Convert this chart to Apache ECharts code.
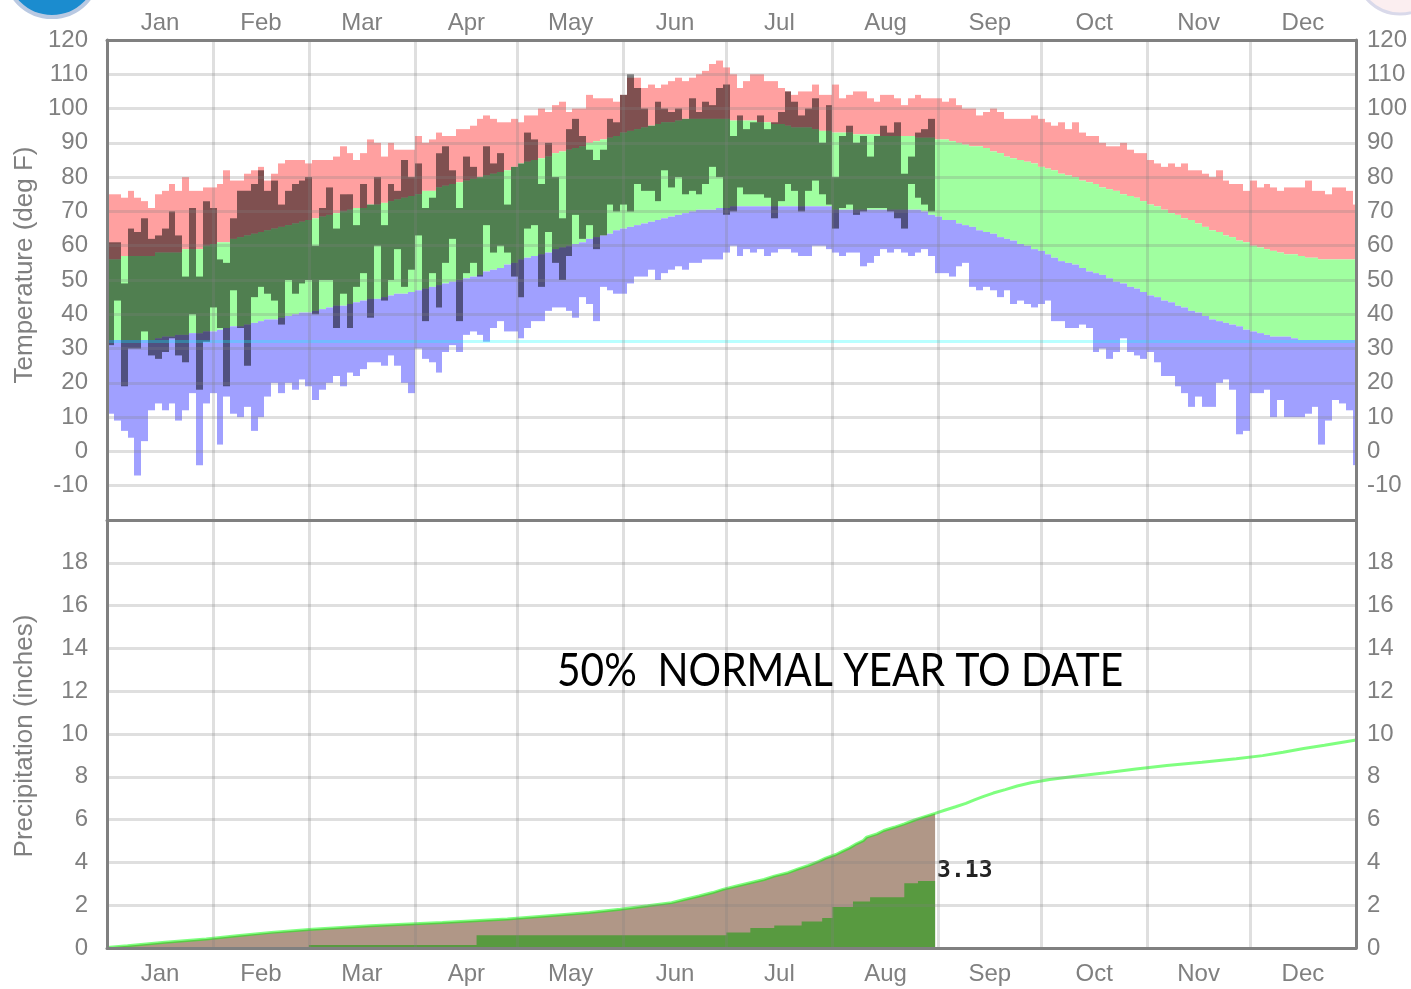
<!DOCTYPE html>
<html>
<head>
<meta charset="utf-8">
<title>Temperature and precipitation</title>
<script src="https://cdn.jsdelivr.net/npm/echarts@6/dist/echarts.min.js"></script>
<style>
  html, body { margin: 0; padding: 0; background: #fff; }
  #chart { width: 1411px; height: 989px; }
</style>
</head>
<body>
<div id="chart"></div>
<script>
// month axis
const months = ['Jan', 'Feb', 'Mar', 'Apr', 'May', 'Jun', 'Jul', 'Aug', 'Sep', 'Oct', 'Nov', 'Dec'];
const monthStarts = [0, 31, 59, 90, 120, 151, 181, 212, 243, 273, 304, 334, 365];

// temperatures (deg F), one value per 2-day bin
const BIN_DAYS = 2;
const recHigh = [
  75, 75, 74, 76, 74, 73, 71, 75, 76, 78, 76, 80, 76, 76, 77, 77, 78, 82, 79, 79, 81, 82, 83, 79, 81, 84, 85, 85, 85, 84,
  85, 85, 85, 86, 89, 87, 85, 87, 91, 90, 86, 90, 88, 88, 88, 92, 90, 91, 93, 92, 92, 94, 94, 95, 97, 98, 97, 96, 96, 97, 96,
  98, 98, 100, 99, 101, 102, 99, 100, 100, 104, 103, 103, 103, 102, 104, 109, 109, 106, 107, 106, 107, 108, 109, 108, 109, 110, 111, 113, 114, 112, 110,
  106, 108, 110, 110, 108, 108, 106, 105, 104, 105, 105, 107, 104, 104, 107, 103, 104, 105, 105, 103, 102, 104, 104, 103, 101, 103, 104, 103, 103, 103,
  102, 103, 101, 100, 100, 98, 99, 100, 99, 97, 97, 97, 97, 98, 97, 96, 95, 96, 94, 96, 93, 92, 92, 90, 89, 89, 90, 88, 87, 87, 85,
  84, 83, 84, 83, 84, 82, 82, 81, 80, 82, 79, 78, 78, 76, 79, 77, 78, 77, 76, 77, 77, 77, 79, 76, 76, 75, 77, 77, 76, 72
];
const normHigh = [
  56, 56, 57, 57, 57, 57, 57, 58, 58, 58, 58, 59, 59, 59, 60, 60.5, 61, 61, 62, 62.5, 63, 63.5, 64, 64.5, 65, 65.5, 66, 66.5, 67, 67.5,
  68, 68.5, 69, 69.5, 70, 70.5, 71, 71, 72, 72, 72.5, 73, 73.5, 74, 74.5, 75, 76, 76, 77, 77.5, 78, 78.5, 79, 79.5, 80, 80.5, 81, 81.5, 82, 83, 84,
  84.5, 85, 85.5, 86, 87, 87.5, 88, 88.5, 89, 90, 90.5, 91, 91.5, 92, 93, 93.5, 94, 94.5, 95, 95.5, 96, 96, 96.5, 97, 97, 97, 97, 97, 97, 97, 96.5,
  96.5, 96.5, 96.5, 96, 96, 95.5, 95.5, 95, 94.5, 94.5, 94.5, 94, 93.5, 93.5, 93, 93, 93, 92.5, 92.5, 92.5, 92.5, 92, 92, 92, 92, 92, 91.5, 91.5, 91.5, 91,
  91, 90.5, 90, 89.5, 89, 89, 88.5, 87.5, 87, 86, 85.5, 85, 84.5, 84, 83, 82.5, 82, 81, 80.5, 80, 79, 78.5, 78, 77, 76.5, 76, 75, 74.5, 74, 73, 72,
  71.5, 70.5, 69.5, 69, 68, 67.5, 66.5, 65.5, 64.5, 64, 63, 62.5, 61.5, 61, 60, 59.5, 59, 58.5, 58, 57.5, 57.5, 57, 56.5, 56.5, 56, 56, 56, 56, 56, 56
];
const normLow = [
  32.5, 32.5, 32.5, 32.5, 32.5, 32.5, 32.5, 33, 33.5, 33.5, 34, 34, 34.5, 34.5, 35, 35, 35.5, 36, 36.5, 36.5, 37, 37.5, 38, 38.5, 38.5, 39, 39.5, 40, 40.5, 40.5,
  41, 41.5, 42, 42.5, 42.5, 43, 43.5, 44, 44.5, 44.5, 45, 45.5, 46, 46, 46.5, 47, 47.5, 48, 48.5, 49, 49.5, 50, 50.5, 51, 51.5, 52.5, 53, 53.5, 54.5, 55, 56,
  56.5, 57, 57.5, 58, 59, 59.5, 60, 60.5, 61, 62, 62.5, 63, 63.5, 64.5, 65, 65.5, 66, 66.5, 67, 67.5, 68, 68.5, 69, 69.5, 70, 70.5, 70.5, 70.5, 71, 71, 71.5,
  71.5, 71.5, 71.5, 71.5, 71.5, 71.5, 71.5, 71.5, 71.5, 71.5, 71.5, 71.5, 71.5, 71.5, 70.5, 70.5, 70.5, 70.5, 70.5, 70.5, 70.5, 70.5, 70.5, 70.5, 70.5, 70.5, 70.5, 70, 69, 68.5,
  67.5, 67.5, 66.5, 66, 65.5, 64.5, 64, 63.5, 62.5, 62, 61.5, 60.5, 60, 59, 58.5, 57.5, 56.5, 55.5, 55, 54.5, 53.5, 52.5, 52, 51.5, 50.5, 49.5, 49, 48, 47.5, 46.5, 45.5,
  45, 44, 43.5, 42.5, 42, 41, 40.5, 39.5, 38.5, 38, 37.5, 37, 36.5, 35.5, 35, 34.5, 34, 33.5, 33.5, 33.5, 33, 32.5, 32.5, 32.5, 32.5, 32.5, 32.5, 32.5, 32.5, 32.5
];
const recLow = [
  11, 9, 6, 4, -7, 3, 12, 14, 12, 14, 9, 12, 17, -4, 14, 17, 2, 16, 11, 10, 13, 6, 10, 16, 20, 17, 20, 18, 21, 19,
  15, 18, 20, 22, 19, 23, 22, 24, 26, 26, 25, 28, 25, 20, 17, 30, 27, 26, 23, 29, 31, 29, 34, 35, 34, 32, 36, 38, 35, 35, 33,
  36, 38, 38, 41, 42, 42, 41, 39, 45, 43, 38, 48, 47, 46, 46, 49, 51, 51, 53, 50, 52, 53, 54, 53, 55, 55, 56, 56, 56, 58, 60,
  57, 59, 58, 59, 57, 58, 59, 59, 58, 57, 57, 60, 60, 59, 58, 57, 58, 58, 54, 55, 57, 59, 58, 59, 58, 57, 58, 59, 57, 52,
  52, 51, 54, 55, 48, 47, 48, 47, 45, 47, 43, 44, 43, 42, 43, 44, 38, 38, 36, 36, 37, 36, 29, 30, 27, 29, 33, 29, 28, 27, 29,
  26, 22, 22, 19, 17, 13, 16, 13, 13, 20, 21, 18, 5, 6, 17, 17, 18, 10, 15, 10, 10, 10, 11, 13, 2, 9, 15, 14, 12, -4
];
// this year's observed daily range, through late August
const obsHigh = [
  61, 61, 49, 65, 64, 68, 62, 63, 65, 70, 63, 51, 71, 51, 73, 71, 56, 55, 68, 76, 76, 78, 82, 76, 79, 72, 76, 78, 79, 80,
  60, 71, 77, 65, 75, 75, 66, 78, 72, 80, 66, 78, 76, 85, 80, 84, 71, 74, 87, 89, 82, 71, 86, 83, 80, 89, 84, 87, 72, 83, 84,
  93, 91, 78, 90, 80, 68, 94, 97, 92, 88, 85, 88, 97, 96, 104, 110, 106, 100, 95, 102, 100, 99, 100, 97, 103, 99, 102, 101, 106, 107, 92,
  98, 94, 96, 98, 94, 96, 99, 105, 102, 98, 100, 103, 90, 101, 80, 92, 95, 90, 92, 86, 92, 95, 93, 96, 81, 86, 93, 94, 97
];
const obsLow = [
  31, 44, 19, 30, 30, 35, 28, 27, 29, 33, 28, 26, 40, 18, 32, 42, 36, 19, 47, 36, 25, 45, 48, 46, 44, 37, 50, 46, 49, 50,
  40, 50, 50, 36, 46, 36, 48, 52, 39, 60, 44, 50, 59, 48, 53, 63, 38, 52, 42, 55, 62, 38, 52, 55, 51, 66, 58, 60, 58, 51, 45,
  65, 66, 48, 64, 55, 50, 57, 69, 62, 66, 59, 63, 72, 70, 72, 70, 78, 76, 76, 73, 82, 77, 80, 75, 76, 75, 78, 83, 80, 69, 70,
  77, 75, 75, 75, 74, 68, 73, 78, 76, 70, 76, 79, 75, 72, 65, 71, 72, 69, 70, 71, 71, 71, 70, 68, 65, 78, 74, 72, 70
];
const FREEZE = 32;

// cumulative precipitation (inches) by day of year
const precipNormalDays = [0, 6, 17, 29, 38, 48, 60, 77, 98, 117, 131, 141, 150, 158, 165, 169, 173, 177, 180, 184, 188, 192, 195, 199, 202, 205, 208, 210, 213, 215, 217, 219, 221, 222, 225, 227, 230, 233, 236, 239, 242, 245, 248, 251, 253.5, 256, 259, 262.5, 266, 270, 275.5, 283, 292, 300.7, 309.7, 320, 330, 337.7, 343.7, 349.7, 355.8, 362, 365];
const precipNormalInches = [0.02, 0.1, 0.27, 0.42, 0.57, 0.73, 0.88, 1.04, 1.19, 1.35, 1.53, 1.66, 1.81, 1.97, 2.12, 2.28, 2.43, 2.59, 2.74, 2.9, 3.05, 3.2, 3.36, 3.52, 3.7, 3.86, 4.05, 4.2, 4.37, 4.53, 4.68, 4.87, 5.02, 5.18, 5.33, 5.49, 5.64, 5.8, 5.98, 6.14, 6.29, 6.45, 6.6, 6.76, 6.92, 7.07, 7.24, 7.4, 7.57, 7.72, 7.87, 8.03, 8.19, 8.36, 8.53, 8.68, 8.84, 8.99, 9.15, 9.32, 9.47, 9.64, 9.72];
const precipObsDays = [0, 59, 108, 181, 188, 195, 203, 209, 212, 218, 223, 233, 237, 242];
const precipObsInches = [0, 0.14, 0.6, 0.73, 0.93, 1.05, 1.24, 1.4, 1.92, 2.17, 2.37, 3.02, 3.13, 3.13];
const OBS_END = 242;
const annotation = '50%  NORMAL YEAR TO DATE';

const FONT = 'Liberation Sans';
const GREY = '#808080';
const GRID_LINE = 'rgba(128,128,128,0.25)';

const chart = echarts.init(document.getElementById('chart'));

const binStart = (k) => k * BIN_DAYS;
const binEnd = (k) => Math.min((k + 1) * BIN_DAYS, 365);
const band = (lower, upper) => upper.map((v, k) => [binStart(k), binEnd(k), lower[k], v]);

const monthMids = months.map((m, i) => (monthStarts[i] + monthStarts[i + 1]) / 2);
const monthName = (v) => {
  let best = 0;
  monthMids.forEach((m, i) => { if (Math.abs(m - v) < Math.abs(monthMids[best] - v)) best = i; });
  return months[best];
};

function rectRender(params, api) {
  const a = api.coord([api.value(0), api.value(3)]);
  const b = api.coord([api.value(1), api.value(2)]);
  const x0 = Math.round(a[0]);
  const x1 = Math.round(b[0]);
  return {
    type: 'rect',
    shape: { x: x0, y: a[1], width: x1 - x0, height: b[1] - a[1] },
    style: { fill: api.visual('color') }
  };
}

function bandSeries(name, data, color, z) {
  return {
    name: name,
    type: 'custom',
    xAxisIndex: 0,
    yAxisIndex: 0,
    renderItem: rectRender,
    encode: { x: [0, 1], y: [2, 3] },
    itemStyle: { color: color },
    data: data,
    silent: true,
    z: z
  };
}

const xBase = {
  type: 'value',
  min: 0,
  max: 365,
  z: 10,
  axisTick: { show: false, customValues: monthStarts },
  axisLine: { show: true, onZero: false, lineStyle: { color: GREY, width: 3 } }
};
const monthLabel = (margin) => ({
  show: true,
  customValues: monthMids,
  formatter: monthName,
  color: GREY,
  fontFamily: FONT,
  fontSize: 24,
  margin: margin
});

const yLabel = (hide, margin) => ({
  color: GREY,
  fontFamily: FONT,
  fontSize: 24,
  margin: margin,
  formatter: (v) => (v === hide ? '' : String(v))
});

chart.setOption({
  animation: false,
  backgroundColor: '#fff',
  grid: [
    { left: 107, top: 40, width: 1249, height: 480 },
    { left: 107, top: 520, width: 1249, height: 428 }
  ],
  xAxis: [
    Object.assign({}, xBase, {
      gridIndex: 0, position: 'bottom',
      axisLabel: { show: false },
      splitLine: { show: true, lineStyle: { color: GRID_LINE, width: 3 } }
    }),
    Object.assign({}, xBase, {
      gridIndex: 0, position: 'top',
      axisLabel: monthLabel(5),
      splitLine: { show: false }
    }),
    Object.assign({}, xBase, {
      gridIndex: 1, position: 'bottom',
      axisLabel: monthLabel(14),
      splitLine: { show: true, lineStyle: { color: GRID_LINE, width: 3 } }
    })
  ],
  yAxis: [
    {
      type: 'value', gridIndex: 0, position: 'left', min: -20, max: 120, interval: 10, z: 10,
      axisLine: { show: true, onZero: false, lineStyle: { color: GREY, width: 3 } },
      axisTick: { show: false },
      axisLabel: yLabel(-20, 19),
      splitLine: { show: true, lineStyle: { color: GRID_LINE, width: 3 } }
    },
    {
      type: 'value', gridIndex: 0, position: 'right', min: -20, max: 120, interval: 10, z: 10,
      axisLine: { show: true, onZero: false, lineStyle: { color: GREY, width: 3 } },
      axisTick: { show: false },
      axisLabel: yLabel(-20, 11),
      splitLine: { show: false }
    },
    {
      type: 'value', gridIndex: 1, position: 'left', min: 0, max: 20, interval: 2, z: 10,
      axisLine: { show: true, onZero: false, lineStyle: { color: GREY, width: 3 } },
      axisTick: { show: false },
      axisLabel: yLabel(20, 19),
      splitLine: { show: true, lineStyle: { color: GRID_LINE, width: 3 } }
    },
    {
      type: 'value', gridIndex: 1, position: 'right', min: 0, max: 20, interval: 2, z: 10,
      axisLine: { show: true, onZero: false, lineStyle: { color: GREY, width: 3 } },
      axisTick: { show: false },
      axisLabel: yLabel(20, 11),
      splitLine: { show: false }
    }
  ],
  graphic: [
    {
      type: 'circle', shape: { cx: 52, cy: -30, r: 47 },
      style: { fill: '#1b8ccf', stroke: '#b9c9e2', lineWidth: 4 }, silent: true
    },
    {
      type: 'circle', shape: { cx: 1400, cy: -30, r: 44 },
      style: { fill: '#fbeef0', stroke: '#d9d9ea', lineWidth: 3 }, silent: true
    },
    {
      type: 'text', x: 25, y: 265, rotation: Math.PI / 2, silent: true,
      style: { text: 'Temperature (deg F)', fill: GREY, font: '26px "Liberation Sans"', align: 'center', verticalAlign: 'middle' }
    },
    {
      type: 'text', x: 25, y: 736, rotation: Math.PI / 2, silent: true,
      style: { text: 'Precipitation (inches)', fill: GREY, font: '26px "Liberation Sans"', align: 'center', verticalAlign: 'middle' }
    },
    {
      type: 'text', x: 557, y: 671, scaleX: 0.865, silent: true, z: 20,
      style: { text: annotation, fill: '#000', font: '47px Lato', align: 'left', verticalAlign: 'middle' }
    }
  ],
  series: [
    bandSeries('Record high', band(normHigh, recHigh), '#ffa0a0', 2),
    bandSeries('Normal range', band(normLow, normHigh), '#a0ffa0', 2),
    bandSeries('Record low', band(recLow, normLow), '#a0a0ff', 2),
    bandSeries('Observed', band(obsLow, obsHigh), 'rgba(0,0,0,0.5)', 3),
    {
      name: 'Freezing',
      type: 'line',
      xAxisIndex: 0,
      yAxisIndex: 0,
      data: [],
      z: 4,
      markLine: {
        silent: true,
        symbol: 'none',
        label: { show: false },
        lineStyle: { color: 'rgba(0,255,255,0.28)', width: 3, type: 'solid' },
        data: [{ yAxis: FREEZE }]
      }
    },
    {
      name: 'Normal to date',
      type: 'line',
      xAxisIndex: 2,
      yAxisIndex: 2,
      symbol: 'none',
      lineStyle: { width: 0 },
      areaStyle: { color: '#b09787', opacity: 1 },
      data: precipNormalDays
        .map((d, i) => [d, precipNormalInches[i]])
        .filter((p) => p[0] <= OBS_END),
      z: 2
    },
    {
      name: 'Observed precipitation',
      type: 'line',
      xAxisIndex: 2,
      yAxisIndex: 2,
      symbol: 'none',
      step: 'end',
      lineStyle: { width: 0 },
      areaStyle: { color: '#589a40', opacity: 1 },
      data: precipObsDays.map((d, i) => [d, precipObsInches[i]]),
      z: 3,
      markPoint: {
        symbolSize: 0,
        silent: true,
        data: [{ coord: [OBS_END, precipObsInches[precipObsInches.length - 1]] }],
        label: {
          show: true,
          position: 'right',
          distance: 2,
          offset: [0, -10],
          formatter: () => precipObsInches[precipObsInches.length - 1].toFixed(2),
          color: '#222',
          fontFamily: 'DejaVu Sans Mono',
          fontWeight: 'bold',
          fontSize: 23
        }
      }
    },
    {
      name: 'Normal',
      type: 'line',
      xAxisIndex: 2,
      yAxisIndex: 2,
      symbol: 'none',
      lineStyle: { color: 'rgba(0,255,0,0.5)', width: 3 },
      data: precipNormalDays.map((d, i) => [d, precipNormalInches[i]]),
      z: 4
    }
  ]
});
</script>
</body>
</html>
